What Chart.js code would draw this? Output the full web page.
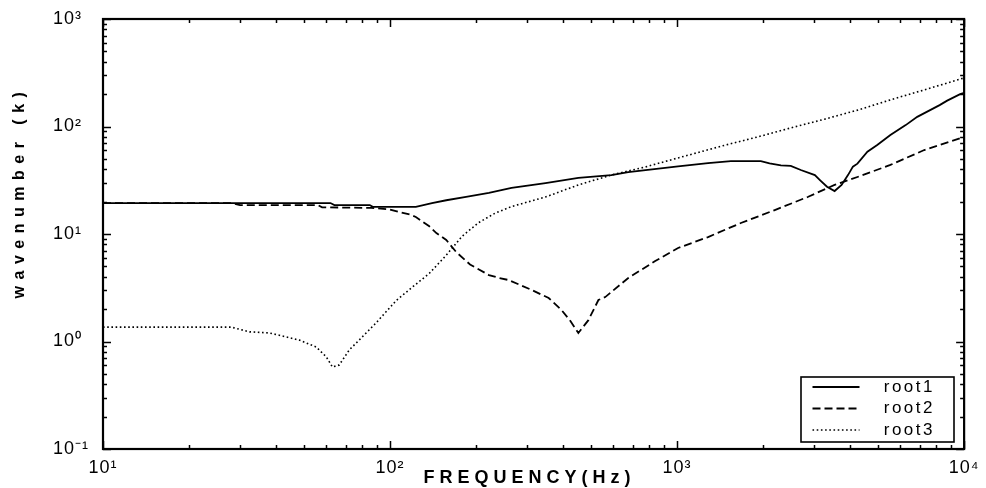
<!DOCTYPE html>
<html><head><meta charset="utf-8">
<script src="https://cdn.jsdelivr.net/npm/chart.js@4.4.1/dist/chart.umd.min.js"></script>
<style>html,body{margin:0;padding:0;background:#fff}canvas{display:block}</style>
</head><body>
<canvas id="c" width="986" height="488"></canvas>
<script>
// ---- data (frequency in Hz, wavenumber k) ----
const root1Freq = [10, 28, 62, 64, 85, 87, 123, 140, 157, 184, 221, 265, 348, 453, 590, 676, 1008, 1282, 1540, 1958, 2100, 2300, 2489, 2698, 3020, 3152, 3329, 3538, 3742, 3939, 4098, 4249, 4604, 4980, 5535, 6258, 6866, 8215, 8730, 9686, 10000];
const root1K    = [19.4, 19.4, 19.4, 18.6, 18.6, 17.9, 17.9, 19.4, 20.6, 22.1, 24.1, 26.8, 29.8, 33.2, 35.3, 37.7, 42.5, 45.7, 47.7, 47.7, 45.5, 43.5, 43.0, 39.4, 35.3, 31.6, 27.5, 25.1, 28.6, 35.3, 42.3, 45.1, 58.2, 67.3, 83.5, 103, 123, 158, 174, 200, 205];

const root2Freq = [10, 28, 30, 56, 58, 86, 99, 107.5, 118, 123, 137, 145, 157, 170, 190, 221, 240, 259, 311, 357, 396, 425, 453, 491, 532, 562, 676, 839, 1008, 1282, 1668, 2189, 2851, 3538, 4249, 5535, 7262, 10000];
const root2K    = [19.4, 19.4, 18.6, 18.6, 17.7, 17.5, 17.0, 16.0, 15.1, 14.4, 11.8, 10.2, 8.8, 6.8, 5.2, 4.15, 3.9, 3.73, 3.02, 2.54, 1.96, 1.55, 1.20, 1.58, 2.43, 2.59, 3.90, 5.6, 7.41, 9.37, 12.65, 16.7, 22.1, 28.6, 33.9, 43.9, 60.4, 79.8];

const root3Freq = [10, 28, 32.4, 38, 42.2, 48.3, 55.3, 60, 63, 66.5, 72.1, 78, 89.4, 105, 119, 137, 157, 178, 203, 232, 265, 348, 453, 590, 774, 1008, 1468, 1910, 2489, 3265, 4249, 5535, 7262, 10000];
const root3K    = [1.36, 1.36, 1.23, 1.20, 1.125, 1.03, 0.889, 0.718, 0.579, 0.604, 0.834, 1.03, 1.49, 2.4, 3.17, 4.3, 6.35, 9.5, 12.7, 15.6, 18.0, 22.1, 28.6, 35.4, 42, 51, 67, 80, 97, 117, 142, 177, 219, 283];

const seriesLabels = ['root1', 'root2', 'root3'];
const xRange = [10, 10000];
const yRange = [0.1, 1000];
const xTitle = 'FREQUENCY(Hz)';
const yTitle = 'wavenumber (k)';

// ---- helpers ----
const SUP = {'-': '\u207B', '0': '\u2070', '1': '\u00B9', '2': '\u00B2', '3': '\u00B3', '4': '\u2074'};
function powLabel(v) {
  const e = Math.log10(v), r = Math.round(e);
  if (Math.abs(e - r) > 1e-6) return '';
  return '10' + String(r).split('').map(c => SUP[c]).join('');
}
function pts(f, k) { return f.map((x, i) => ({x: x, y: k[i]})); }

const FONT = "'Liberation Sans', Arial, Helvetica, sans-serif";
Chart.defaults.font.family = FONT;
Chart.defaults.color = '#000';

function tickValues(min, max) {
  const out = [];
  for (let e = Math.floor(Math.log10(min)); e <= Math.ceil(Math.log10(max)); e++) {
    for (let m = 1; m <= 9; m++) {
      const v = m * Math.pow(10, e);
      if (v >= min * 0.9999 && v <= max * 1.0001) out.push({v: v, major: m === 1});
    }
  }
  return out;
}

const framePlugin = {
  id: 'frame',
  afterLayout(chart) {
    const lg = chart.legend;
    if (lg) {
      const h = lg.height;
      lg.left = 808; lg.top = 374; lg.right = 935;
      lg.width = lg.right - lg.left; lg.bottom = lg.top + h;
    }
  },
  beforeDraw(chart) {
    const ctx = chart.ctx;
    ctx.letterSpacing = '1px';
    const sx = chart.scales.x, sy = chart.scales.y;
    if (sx && !sx._pt) {
      const o = sx.drawTitle.bind(sx);
      sx.drawTitle = function () { ctx.save(); ctx.letterSpacing = '5px'; ctx.translate(-4, 1); o(); ctx.restore(); };
      sx._pt = true;
    }
    if (sy && !sy._pt) {
      const o = sy.drawTitle.bind(sy);
      sy.drawTitle = function () { ctx.save(); ctx.letterSpacing = '6.5px'; ctx.translate(-43, -42); o(); ctx.restore(); };
      sy._pt = true;
    }
    const lg = chart.legend;
    if (lg && !lg._pt) {
      const o = lg.draw.bind(lg);
      lg.draw = function () { ctx.save(); ctx.letterSpacing = '2.5px'; o(); ctx.restore(); };
      lg._pt = true;
    }
  },
  afterDraw(chart) {
    const ctx = chart.ctx;
    const {left, right, top, bottom} = chart.chartArea;
    const sx = chart.scales.x, sy = chart.scales.y;
    ctx.save();
    ctx.strokeStyle = '#000';
    ctx.lineWidth = 1.5;
    ctx.beginPath();
    tickValues(sx.min, sx.max).forEach(t => {
      const p = Math.round(sx.getPixelForValue(t.v)) + 0.5, L = t.major ? 8 : 4;
      ctx.moveTo(p, bottom); ctx.lineTo(p, bottom - L);
      ctx.moveTo(p, top); ctx.lineTo(p, top + L);
    });
    tickValues(sy.min, sy.max).forEach(t => {
      const p = Math.round(sy.getPixelForValue(t.v)) + 0.5, L = t.major ? 8 : 4;
      ctx.moveTo(left, p); ctx.lineTo(left + L, p);
      ctx.moveTo(right, p); ctx.lineTo(right - L, p);
    });
    ctx.stroke();
    ctx.lineWidth = 2.2;
    ctx.strokeRect(left, top, right - left, bottom - top);
    // legend frame
    ctx.lineWidth = 1.6;
    ctx.strokeRect(801, 377, 153, 65);
    ctx.restore();
  }
};

new Chart(document.getElementById('c'), {
  type: 'line',
  data: {
    datasets: [
      {label: seriesLabels[0], data: pts(root1Freq, root1K), borderColor: '#000', backgroundColor: '#000', borderWidth: 1.8, borderDash: []},
      {label: seriesLabels[1], data: pts(root2Freq, root2K), borderColor: '#000', backgroundColor: '#000', borderWidth: 1.8, borderDash: [8, 4]},
      {label: seriesLabels[2], data: pts(root3Freq, root3K), borderColor: '#000', backgroundColor: '#000', borderWidth: 1.6, borderDash: [1.6, 2.6]}
    ]
  },
  options: {
    responsive: false,
    animation: false,
    devicePixelRatio: 1,
    layout: {padding: {left: 53, right: 19, top: 19, bottom: 0}},
    elements: {point: {radius: 0, hoverRadius: 0}, line: {tension: 0}},
    plugins: {
      tooltip: {enabled: false},
      legend: {
        position: 'chartArea',
        align: 'start',
        labels: {
          usePointStyle: true,
          pointStyle: 'line',
          pointStyleWidth: 47,
          textAlign: 'right',
          padding: 4.5,
          font: {size: 17, family: FONT},
          color: '#000',
          generateLabels: chart => Chart.defaults.plugins.legend.labels.generateLabels(chart).map(it => {
            const ds = chart.data.datasets[it.datasetIndex];
            it.lineDash = ds.borderDash;
            it.lineWidth = ds.borderWidth;
            it.strokeStyle = ds.borderColor;
            return it;
          })
        }
      }
    },
    scales: {
      x: {
        type: 'logarithmic',
        min: xRange[0], max: xRange[1],
        grid: {display: false, drawTicks: false},
        border: {display: false},
        ticks: {
          autoSkip: false, maxRotation: 0, padding: 8,
          font: {size: 18, family: FONT},
          callback: v => powLabel(v)
        },
        title: {display: true, text: xTitle, font: {size: 18, weight: 'bold', family: FONT}, padding: {top: 0, bottom: 0}},
        afterFit: s => { s.height = 39; }
      },
      y: {
        type: 'logarithmic',
        min: yRange[0], max: yRange[1],
        grid: {display: false, drawTicks: false},
        border: {display: false},
        ticks: {
          autoSkip: false, crossAlign: 'far', padding: 0,
          font: {size: 18, family: FONT},
          callback: v => powLabel(v)
        },
        title: {display: true, text: yTitle, font: {size: 16, weight: 'bold', family: FONT}, padding: {top: 0, bottom: 0}},
        afterFit: s => { s.width = 50; }
      }
    }
  },
  plugins: [framePlugin]
});
</script>
</body></html>
